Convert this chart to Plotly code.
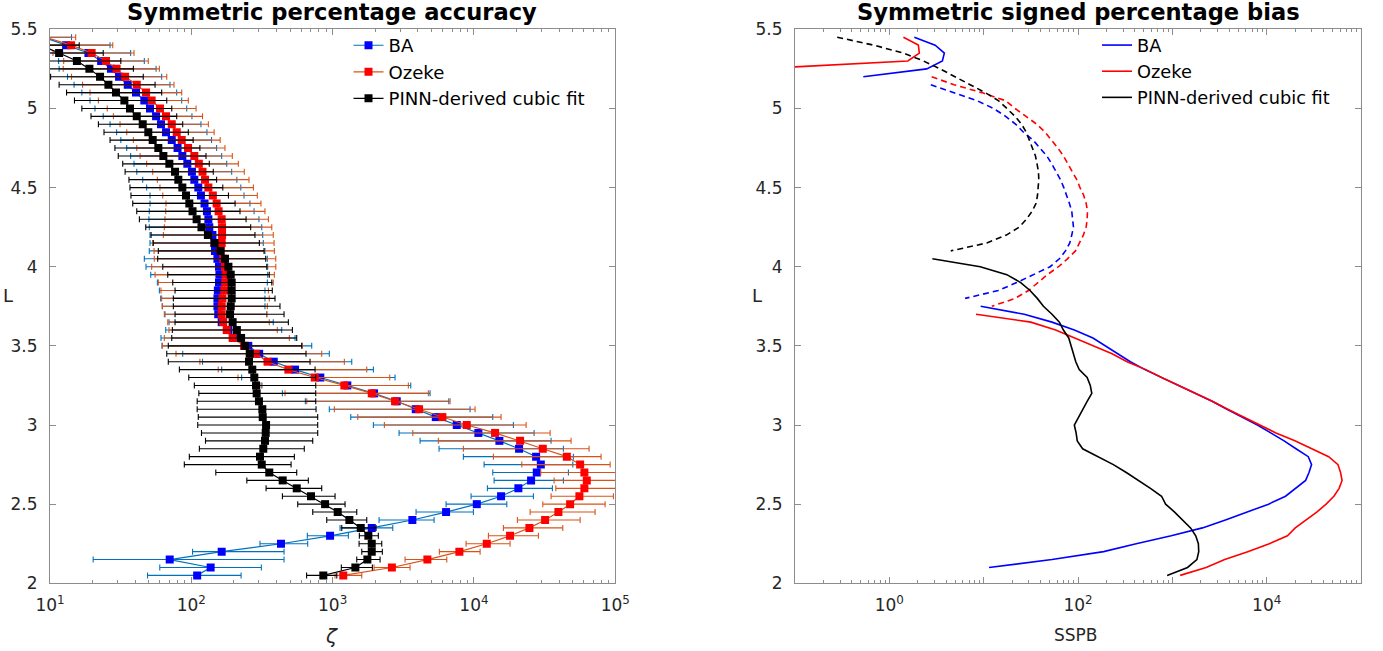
import plotly.graph_objects as go

# ---------------- data ----------------
L = [5.45, 5.40, 5.35, 5.30, 5.25, 5.20, 5.15, 5.10, 5.05, 5.00,
     4.95, 4.90, 4.85, 4.80, 4.75, 4.70, 4.65, 4.60, 4.55, 4.50,
     4.45, 4.40, 4.35, 4.30, 4.25, 4.20, 4.15, 4.10, 4.05, 4.00,
     3.95, 3.90, 3.85, 3.80, 3.75, 3.70, 3.65, 3.60, 3.55, 3.50,
     3.45, 3.40, 3.35, 3.30, 3.25, 3.20, 3.15, 3.10, 3.05, 3.00,
     2.95, 2.90, 2.85, 2.80, 2.75, 2.70, 2.65, 2.60, 2.55, 2.50,
     2.45, 2.40, 2.35, 2.30, 2.25, 2.20, 2.15, 2.10, 2.05]

# Symmetric percentage accuracy (zeta): median value, lower and upper bounds
ba_zeta = [9.0, 13.0, 18.7, 23.0, 27.0, 30.8, 35.5, 40.6, 46.5, 51.0,
           56.3, 61.0, 66.2, 72.7, 79.9, 86.4, 93.7, 101, 105, 112,
           117, 124, 129, 132, 134, 141, 146, 147, 153, 157,
           158, 157, 154, 153, 153, 155, 164, 183, 202, 253,
           302, 383, 542, 818, 1270, 1963, 2842, 3873, 5366, 7554,
           10740, 15130, 20850, 27520, 29710, 27820, 25360, 20610, 15550, 10470,
           6346, 3665, 1891, 959, 431, 164, 70.3, 137, 110]
ba_lo = [5.5, 8.0, 9.5, 11.5, 11.6, 13.3, 14.8, 16.8, 19.2, 20.8,
         23.8, 26.6, 29.6, 31.7, 34.9, 37.2, 39.3, 41.1, 45.3, 48.3,
         51.0, 51.0, 50.4, 50.1, 50.4, 51.0, 51.0, 50.4, 46.5, 47.8,
         51.6, 57.5, 59.4, 60.7, 62.3, 65.1, 69.5, 65.9, 61.0, 62.0,
         86.9, 120, 164, 227, 316, 441, 641, 947, 1343, 1941,
         2951, 4155, 5660, 8414, 11790, 13580, 13880, 12440, 9539, 6346,
         3892, 2130, 1128, 662, 306, 102, 20.2, 59.8, 49.0]
ba_hi = [14.2, 26.6, 37.2, 46.5, 56.3, 61.7, 70.6, 78.8, 85.5, 92.8,
         101, 117, 129, 139, 151, 164, 178, 193, 210, 224,
         236, 260, 278, 301, 315, 320, 323, 332, 345, 347,
         347, 345, 332, 332, 332, 342, 380, 436, 542, 711,
         947, 1365, 1942, 2764, 3570, 4890, 6633, 9384, 13580, 19010,
         26630, 35130, 42930, 50520, 50040, 46570, 42930, 35880, 26330, 17070,
         9904, 5220, 2664, 1292, 666, 453, 453, 313, 225]

oz_zeta = [9.3, 14.1, 19.7, 24.9, 29.6, 34.0, 41.1, 47.8, 52.4, 60.0,
           66.2, 72.7, 78.8, 85.5, 94.8, 105, 113, 120, 125, 132,
           142, 151, 156, 164, 165, 165, 164, 161, 168, 173,
           175, 174, 171, 166, 164, 164, 168, 178, 196, 236,
           285, 346, 486, 747, 1210, 1891, 2764, 4088, 5975, 8892,
           14100, 21200, 30690, 45390, 56380, 60430, 62850, 60430, 55720, 47900,
           39570, 31860, 24670, 18000, 12320, 7882, 4681, 2625, 1189]
oz_lo = [5.8, 8.5, 10.5, 12.5, 12.4, 14.2, 17.0, 19.2, 22.0, 25.4,
         28.1, 31.3, 34.9, 38.9, 41.1, 43.4, 48.3, 53.3, 57.5, 60.0,
         62.8, 66.2, 65.9, 65.1, 64.4, 63.4, 53.3, 54.5, 54.7, 52.4,
         55.4, 58.4, 61.0, 61.7, 62.3, 64.4, 68.1, 69.5, 64.4, 62.3,
         77.9, 115, 155, 214, 311, 460, 656, 1028, 1506, 2322,
         3690, 5598, 8414, 13720, 21790, 29710, 36890, 37930, 35130, 30690,
         24950, 20280, 16150, 12650, 8792, 5690, 3253, 1963, 1040]
oz_hi = [15.2, 27.8, 39.3, 49.6, 59.4, 67.0, 75.4, 85.5, 95.2, 108,
         120, 132, 145, 160, 173, 195, 215, 237, 256, 275,
         293, 311, 332, 351, 371, 380, 385, 387, 396, 396,
         387, 380, 351, 356, 345, 342, 356, 406, 494, 610,
         837, 1210, 1743, 2536, 3433, 4757, 6776, 10180, 15550, 23380,
         34570, 48660, 65260, 79330, 91930, 117000, 126000, 117000, 96960, 84700,
         71940, 56380, 42500, 28560, 18000, 11050, 6419, 3530, 1607]

pinn_zeta = [6.5, 8.5, 11.6, 15.5, 19.0, 22.6, 25.9, 29.3, 33.6, 36.8,
             41.1, 45.3, 49.6, 53.3, 58.4, 63.4, 69.9, 76.7, 80.9, 86.4,
             91.7, 96.8, 102, 109, 118, 131, 146, 161, 173, 183,
             190, 193, 193, 193, 190, 188, 196, 210, 225, 240,
             259, 256, 270, 279, 287, 290, 301, 318, 320, 338,
             336, 332, 323, 306, 315, 356, 443, 557, 703, 884,
             1086, 1313, 1581, 1789, 1891, 1891, 1761, 1448, 859]
pinn_lo = [4.5, 6.0, 7.0, 8.0, 9.5, 10.1, 11.6, 13.1, 14.9, 16.8,
           19.5, 22.0, 24.1, 26.6, 28.8, 30.4, 32.7, 34.0, 36.2, 36.8,
           37.4, 38.5, 41.1, 42.9, 47.6, 51.9, 53.8, 58.4, 57.8, 62.8,
           68.1, 73.9, 76.7, 74.6, 74.6, 76.7, 76.7, 73.4, 72.7, 68.7,
           67.0, 68.7, 82.3, 95.9, 105, 113, 110, 110, 112, 111,
           118, 126, 114, 96.8, 89.2, 149, 247, 338, 441, 566,
           723, 908, 1160, 1545, 1538, 1607, 1481, 1152, 654]
pinn_hi = [9.0, 16.1, 23.8, 31.7, 38.9, 45.7, 55.4, 61.7, 67.0, 72.7,
           78.8, 86.9, 95.2, 103, 115, 127, 134, 143, 151, 167,
           183, 204, 221, 244, 263, 282, 303, 327, 336, 342,
           356, 371, 374, 391, 424, 453, 486, 519, 557, 604,
           648, 692, 751, 759, 759, 759, 759, 763, 784, 784,
           784, 723, 630, 536, 508, 557, 673, 837, 1040, 1224,
           1481, 1743, 2028, 2105, 2226, 2247, 2165, 1910, 1070]

# Symmetric signed percentage bias (negative values drawn dashed as |SSPB|)
ba_sspb = [1.84, 3.06, 3.83, 3.65, 2.49, 0.53, -2.75, -4.78, -8.45, -12.7,
           -17.1, -21.9, -26.4, -33.4, -39.6, -46.7, -52.7, -59.2, -65.2, -70.7,
           -76.0, -81.1, -85.9, -88.1, -89.5, -85.9, -81.8, -73.6, -63.5, -50.6,
           -33.7, -22.4, -14.3, -6.35, 9.3, 26.9, 53.0, 91.4, 144, 195,
           264, 359, 512, 769, 1167, 1803, 2636, 3793, 5495, 7980,
           11040, 15310, 20460, 27610, 29920, 28110, 25880, 20280, 15850, 10470,
           6310, 3656, 2084, 973, 414, 187, 53.0, 11.4, None]
oz_sspb = [1.41, 2.03, 2.08, 1.57, 0.04, -2.81, -4.85, -9.55, -16.9, -21.5,
           -28.2, -36.6, -44.8, -52.7, -61.1, -70.1, -78.5, -87.3, -97.0, -105,
           -115, -122, -126, -125, -122, -114, -104, -94.0, -77.3, -62.1,
           -47.4, -38.1, -29.9, -21.5, -12.2, 8.3, 31.6, 58.0, 93.0, 150,
           230, 331, 525, 769, 1167, 1803, 2661, 3862, 5650, 8260,
           12540, 19910, 29920, 45410, 57020, 60710, 62990, 58610, 51590, 42660,
           33960, 26380, 20090, 16600, 10660, 6300, 3590, 2281, 1210]
pinn_sspb = [-0.28, -0.68, -1.41, -2.30, -3.45, -5.06, -7.18, -10.4, -14.3, -17.6,
             -21.5, -25.3, -28.2, -30.5, -33.1, -35.4, -36.8, -38.1, -38.4, -38.1,
             -37.2, -35.9, -32.6, -28.4, -23.8, -17.4, -10.8, -4.48, 2.86, 9.2,
             17.6, 24.7, 31.0, 37.0, 43.0, 53.0, 63.5, 70.0, 79.8, 85.0,
             89.7, 94.7, 103, 125, 135, 140, 125, 112, 101, 91.4,
             95.5, 98.2, 112, 165, 237, 325, 438, 586, 769, 849,
             1057, 1290, 1560, 1771, 1888, 1905, 1820, 1450, 881]

names = ["BA", "Ozeke", "PINN-derived cubic fit"]
left_ticks = [10, 100, 1000, 10000, 100000]
left_ticktext = ["10<sup>1</sup>", "10<sup>2</sup>", "10<sup>3</sup>", "10<sup>4</sup>", "10<sup>5</sup>"]
right_ticks = [0.1, 1, 10, 100, 1000, 10000, 100000]
right_ticktext = ["", "10<sup>0</sup>", "", "10<sup>2</sup>", "", "10<sup>4</sup>", ""]

# ---------------- geometry (pixels) ----------------
W, H = 1383, 651


def px(t):
    return t / W


def py(t):
    return 1 - t / H


FONT = "DejaVu Sans, Verdana, sans-serif"
TXT = "#262626"
AX = "#8c8c8c"

fig = go.Figure()

left_series = [
    (names[0], ba_zeta, ba_lo, ba_hi, "#0000FF", "#0072BD"),
    (names[1], oz_zeta, oz_lo, oz_hi, "#FF0000", "#D95319"),
    (names[2], pinn_zeta, pinn_lo, pinn_hi, "#000000", "#000000"),
]
for name, v, lo, hi, mcol, lcol in left_series:
    fig.add_trace(go.Scatter(
        x=v, y=L, mode="lines+markers", name=name,
        line=dict(color=lcol, width=1.2),
        marker=dict(symbol="square", size=8, color=mcol, line=dict(width=0)),
        error_x=dict(type="data", symmetric=False,
                     array=[h - c for h, c in zip(hi, v)],
                     arrayminus=[c - l for c, l in zip(v, lo)],
                     color=lcol, thickness=1.1, width=3),
        xaxis="x", yaxis="y", legend="legend",
    ))

right_series = [
    (names[0], ba_sspb, "#0000FF"),
    (names[1], oz_sspb, "#FF0000"),
    (names[2], pinn_sspb, "#000000"),
]
for name, s, col in right_series:
    pos = [v if (v is not None and v > 0) else None for v in s]
    neg = [-v if (v is not None and v < 0) else None for v in s]
    fig.add_trace(go.Scatter(
        x=pos, y=L, mode="lines", name=name, connectgaps=False,
        line=dict(color=col, width=1.6),
        xaxis="x2", yaxis="y2", legend="legend2",
    ))
    fig.add_trace(go.Scatter(
        x=neg, y=L, mode="lines", name=name, connectgaps=False, showlegend=False,
        line=dict(color=col, width=1.6, dash="6px,4px"),
        xaxis="x2", yaxis="y2",
    ))

ydom = [py(583.3), py(29.3)]
common_axis = dict(
    showline=True, linecolor=AX, linewidth=1, mirror="ticks",
    ticks="inside", tickcolor=AX, ticklen=6, showgrid=False, zeroline=False,
    tickfont=dict(family=FONT, size=17, color=TXT),
)
minor = dict(ticks="inside", ticklen=3, tickcolor=AX, dtick="D1", showgrid=False)

fig.update_layout(
    width=W, height=H, margin=dict(l=0, r=0, t=0, b=0, autoexpand=False),
    paper_bgcolor="white", plot_bgcolor="white",
    font=dict(family=FONT, color=TXT),
    xaxis=dict(type="log", range=[1, 5], domain=[px(50), px(615.3)], anchor="y",
               tickvals=left_ticks, ticktext=left_ticktext, minor=minor,
               ticklabelstandoff=6, **common_axis),
    yaxis=dict(range=[2, 5.5], domain=ydom, anchor="x", dtick=0.5,
               ticklabelstandoff=8, **common_axis),
    xaxis2=dict(type="log", range=[-1, 5], domain=[px(795), px(1361)], anchor="y2",
                tickvals=right_ticks, ticktext=right_ticktext, minor=minor,
                ticklabelstandoff=6, **common_axis),
    yaxis2=dict(range=[2, 5.5], domain=ydom, anchor="x2", dtick=0.5,
                ticklabelstandoff=8, **common_axis),
    legend=dict(x=px(348.5), y=py(27), xanchor="left", yanchor="top",
                bgcolor="rgba(255,255,255,0)", borderwidth=0,
                font=dict(family=FONT, size=18.1, color="#000000"), tracegroupgap=0),
    legend2=dict(x=px(1097), y=py(27), xanchor="left", yanchor="top",
                 bgcolor="rgba(255,255,255,0)", borderwidth=0,
                 font=dict(family=FONT, size=17.8, color="#000000"), tracegroupgap=0),
    showlegend=True,
)


def ann(text, x, y, size, color=TXT, xanchor="center", yanchor="middle", yshift=0):
    return dict(text=text, x=x, y=y, xref="paper", yref="paper",
                xanchor=xanchor, yanchor=yanchor, showarrow=False, yshift=yshift,
                font=dict(size=size, color=color, family=FONT))


annotations = [
    ann("<b>Symmetric percentage accuracy</b>", px(332), 1, 22.6, "#000000",
        yanchor="top", yshift=3),
    ann("<b>Symmetric signed percentage bias</b>", px(1078), 1, 22.6, "#000000",
        yanchor="top", yshift=3),
    ann("L", px(8), py(295), 18),
    ann("L", px(757), py(295), 18),
    ann("<i>ζ</i>", px(331), py(636), 20),
    ann("SSPB", px(1076), py(635), 17),
]
fig.update_layout(annotations=annotations)

fig.write_html("out.html")
